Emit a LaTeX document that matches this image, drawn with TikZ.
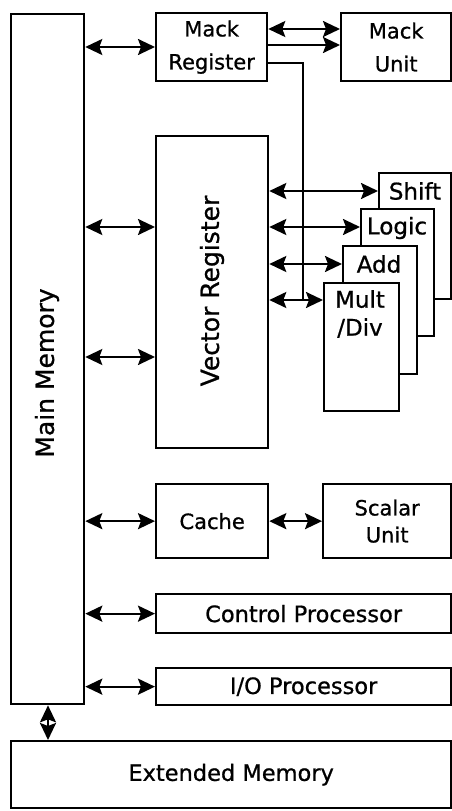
\documentclass[tikz,border=0pt]{standalone}
\usepackage{fontspec}
\setmainfont{DejaVu Sans}[FakeBold=0.8]
\usetikzlibrary{arrows.meta}
\tikzset{
  blk/.style={draw, line width=2.3pt, fill=white, inner sep=0pt, anchor=north west, align=center,
              font=\fontsize{22.5}{28}\selectfont},
  smallblk/.style={blk, font=\fontsize{21}{27}\selectfont},
  lbl/.style={inner sep=0pt, align=center, font=\fontsize{23}{28}\selectfont},
  rlbl/.style={inner sep=0pt, rotate=90, font=\fontsize{25}{28}\selectfont},
  bighead/.tip={Stealth[length=17pt,width=16pt,inset=3pt]},
  dbl/.style={line width=2.3pt, bighead-bighead},
  sgl/.style={line width=2.3pt, -bighead},
  wire/.style={line width=2.3pt}
}
\begin{document}
\begin{tikzpicture}[x=1pt,y=-1pt]
\useasboundingbox[fill=white] (0,0) rectangle (452,811);
% boxes
\node[blk, minimum width=73pt, minimum height=690pt] (mm) at (10,13) {};
\node[rlbl] (mmt) at (47,373) {Main Memory};
\node[smallblk, minimum width=111pt, minimum height=68pt] (mr) at (155,12) {Mack\\[6pt]Register};
\node[smallblk, minimum width=110pt, minimum height=68pt] (mu) at (340,12) {Mack\\[6pt]Unit};
\node[blk, minimum width=112pt, minimum height=312pt] (vr) at (155,135) {};
\node[rlbl] (vrt) at (212,291) {Vector Register};
% functional units (back to front)
\node[blk, minimum width=72pt, minimum height=126pt] (shift) at (378,172) {};
\node[lbl] (shiftt) at (415,191) {Shift};
\node[blk, minimum width=73pt, minimum height=127pt] (logic) at (360,208) {};
\node[lbl] (logict) at (397,228) {Logic};
\node[blk, minimum width=74pt, minimum height=128pt] (add) at (342,245) {};
\node[lbl] (addt) at (379,264) {Add};
\node[blk, minimum width=75pt, minimum height=128pt] (mult) at (323,282) {};
\node[lbl] (multt) at (360,314) {Mult\\/Div};
% lower boxes
\node[smallblk, minimum width=112pt, minimum height=74pt] (cache) at (155,483) {Cache};
\node[smallblk, minimum width=128pt, minimum height=74pt] (su) at (322,483) {Scalar\\Unit};
\node[blk, minimum width=295pt, minimum height=39pt] (cp) at (155,593) {Control Processor};
\node[blk, minimum width=295pt, minimum height=37pt] (io) at (155,667) {I/O Processor};
\node[blk, minimum width=440pt, minimum height=67pt] (em) at (10,740) {Extended Memory};
% connectors
\draw[dbl] (mm.east |- 0,47) -- (mr.west |- 0,47);
\draw[dbl] (mr.east |- 0,29) -- (mu.west |- 0,29);
\draw[sgl] (mr.east |- 0,45) -- (mu.west |- 0,45);
\draw[dbl] (mm.east |- 0,227) -- (vr.west |- 0,227);
\draw[dbl] (mm.east |- 0,357) -- (vr.west |- 0,357);
\draw[dbl] (vr.east |- 0,191) -- (shift.west |- 0,191);
\draw[dbl] (vr.east |- 0,227) -- (logic.west |- 0,227);
\draw[dbl] (vr.east |- 0,264) -- (add.west |- 0,264);
\draw[dbl] (vr.east |- 0,300) -- (mult.west |- 0,300);
\coordinate (mj) at (303,300);
\draw[wire] (mr.east |- 0,63) -| (mj);
\draw[dbl] (mm.east |- cache.west) -- (cache.west);
\draw[dbl] (cache.east) -- (su.west);
\draw[dbl] (mm.east |- cp.west) -- (cp.west);
\draw[dbl] (mm.east |- io.west) -- (io.west);
\draw[dbl] (mm.south -| 48,0) -- (em.north -| 48,0);
\end{tikzpicture}
\end{document}
